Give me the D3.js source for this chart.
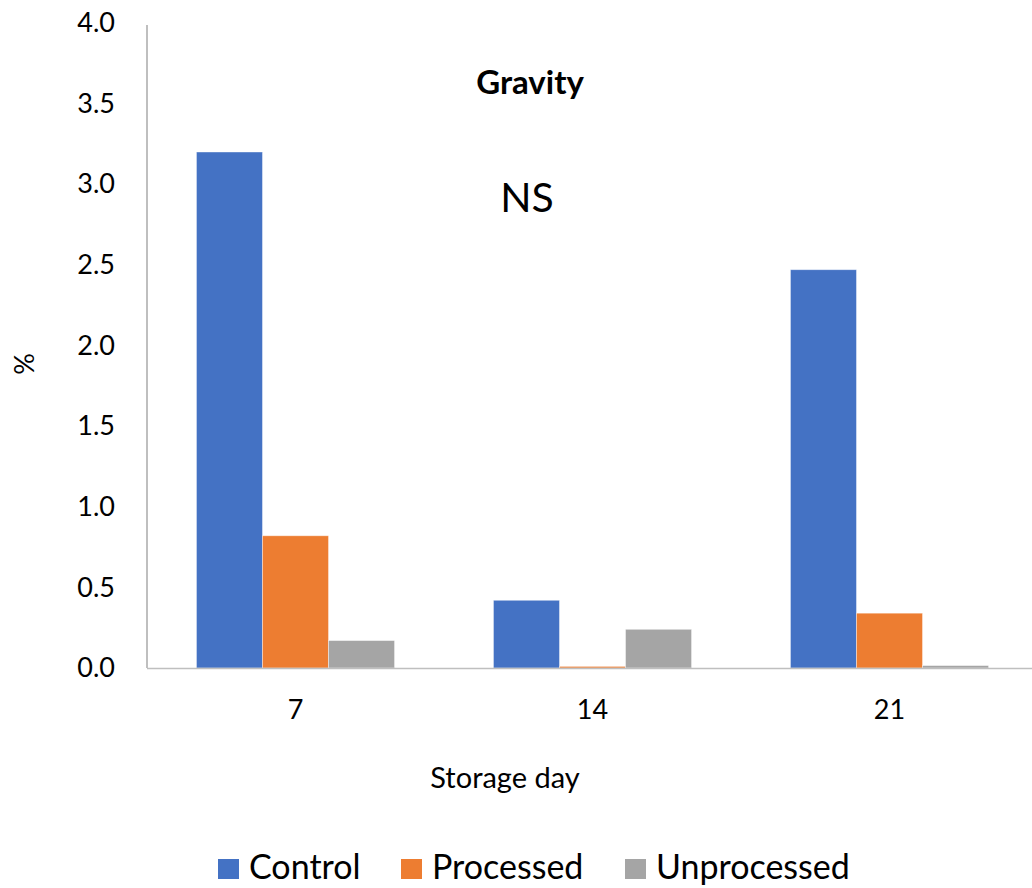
<!DOCTYPE html>
<html>
<head>
<meta charset="utf-8">
<script src="https://cdn.jsdelivr.net/npm/d3@7"></script>
<style>
  html, body { margin: 0; padding: 0; background: #fff; }
  svg { display: block; font-family: Lato, "Open Sans", sans-serif; }
</style>
</head>
<body>
<svg id="chart" width="1032" height="888"></svg>
<script>
// Storage days on the x axis
const days = ["7", "14", "21"];
// Series names and colours
const seriesNames = ["Control", "Processed", "Unprocessed"];
const seriesColors = ["#4472c4", "#ed7d31", "#a5a5a5"];
// Percent values per series, one per storage day
const control = [3.20, 0.42, 2.47];
const processed = [0.82, 0.01, 0.34];
const unprocessed = [0.17, 0.24, 0.015];
// Y axis ticks
const yTicks = [0, 0.5, 1.0, 1.5, 2.0, 2.5, 3.0, 3.5, 4.0];

const seriesValues = [control, processed, unprocessed];

const svg = d3.select("#chart");
const W = 1032;
const plotLeft = 147, plotRight = 1038, plotTop = 23, plotBottom = 668;

const x = d3.scaleBand().domain(days).range([plotLeft, plotRight]).paddingInner(0.333).paddingOuter(0.1665);
const xs = d3.scaleBand().domain(seriesNames).range([0, x.bandwidth()]);
const y = d3.scaleLinear().domain([0, 4]).range([plotBottom, plotTop]);

// Bars
const groups = svg.append("g").selectAll("g")
  .data(days).join("g")
  .attr("transform", d => `translate(${x(d)},0)`);

groups.selectAll("rect")
  .data((d, i) => seriesNames.map((s, j) => ({ s, j, v: seriesValues[j][i] })))
  .join("rect")
  .attr("x", d => xs(d.s))
  .attr("width", xs.bandwidth())
  .attr("y", d => y(d.v))
  .attr("height", d => y(0) - y(d.v))
  .attr("fill", d => seriesColors[d.j])
  .attr("stroke", "#ffffff")
  .attr("stroke-opacity", 0.5)
  .attr("stroke-width", 0.8);

// Y axis
const yAxis = d3.axisLeft(y).tickValues(yTicks).tickFormat(d3.format(".1f")).tickSize(0).tickPadding(32);
const yg = svg.append("g").attr("transform", `translate(${plotLeft},0)`).call(yAxis);
yg.select(".domain").attr("stroke", "#bfbfbf").attr("stroke-width", 2).attr("d", `M0,${y(4) + 2}V${plotBottom}`);
yg.selectAll("text").attr("font-size", 27).attr("fill", "#000").attr("font-family", "Lato, sans-serif");

// X axis
const xAxis = d3.axisBottom(x).tickSize(0).tickPadding(32);
const xg = svg.append("g").attr("transform", `translate(0,${plotBottom})`).call(xAxis);
xg.select(".domain").attr("stroke", "#bfbfbf").attr("stroke-width", 1.6).attr("d", `M${plotLeft},0.5H${W}`);
xg.selectAll("text").attr("font-size", 27).attr("fill", "#000").attr("font-family", "Lato, sans-serif");

// Title and annotation
svg.append("text").attr("x", 530).attr("y", 94).attr("text-anchor", "middle")
  .attr("font-size", 33).attr("font-weight", "bold").text("Gravity");
svg.append("text").attr("x", 527).attr("y", 212).attr("text-anchor", "middle")
  .attr("font-size", 41).text("NS");

// Axis titles
svg.append("text").attr("transform", "translate(34,364) rotate(-90)").attr("text-anchor", "middle")
  .attr("font-size", 27).text("%");
svg.append("text").attr("x", 505).attr("y", 788).attr("text-anchor", "middle")
  .attr("font-size", 29).text("Storage day");

// Legend
const legendX = [218, 401, 625];
const legend = svg.append("g").selectAll("g").data(seriesNames).join("g")
  .attr("transform", (d, i) => `translate(${legendX[i]},859)`);
legend.append("rect").attr("width", 21).attr("height", 20).attr("y", 0)
  .attr("fill", (d, i) => seriesColors[i]);
legend.append("text").attr("x", 31).attr("y", 20).attr("font-size", 34).text(d => d);
</script>
</body>
</html>
